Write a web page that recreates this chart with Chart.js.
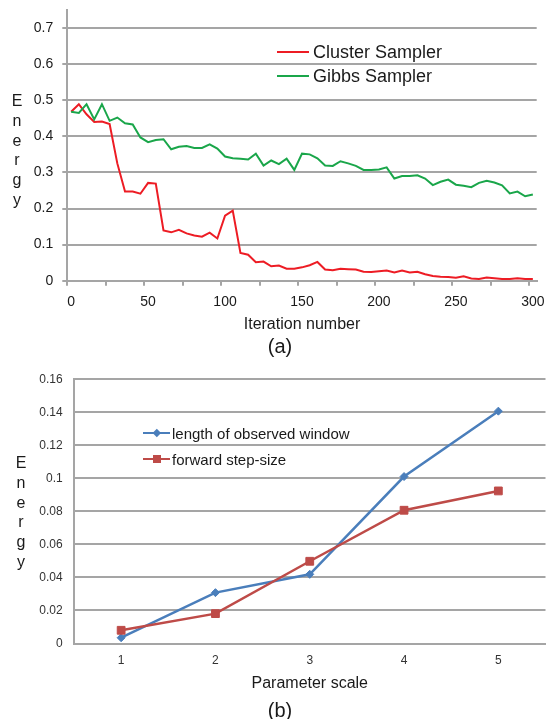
<!DOCTYPE html>
<html>
<head>
<meta charset="utf-8">
<script src="https://cdn.jsdelivr.net/npm/chart.js@4.4.1/dist/chart.umd.min.js"></script>
<style>
  body { margin: 0; background: #fff; }
  #page { position: relative; width: 552px; height: 719px; font-family: "Liberation Sans", Arial, sans-serif; color: #1a1a1a; overflow: hidden; }
  #page canvas { position: absolute; left: 0; }
  #chartA { top: 0; }
  #chartB { top: 360px; }
  .ylabel { position: absolute; width: 30px; text-align: center; line-height: 19.8px; font-size: 16px; }
  .caption { position: absolute; width: 60px; text-align: center; font-size: 20px; line-height: 24px; }
  .legend-row { position: absolute; height: 24px; display: flex; align-items: center; white-space: nowrap; }
  .swatch { position: relative; display: inline-block; }
  .mark { position: absolute; left: 50%; top: 50%; }
</style>
</head>
<body>
<div id="page">
  <canvas id="chartA" width="552" height="360"></canvas>
  <canvas id="chartB" width="552" height="359"></canvas>

  <div class="ylabel" style="left:2px; top:91px;">E<br>n<br>e<br>r<br>g<br>y</div>
  <div class="ylabel" style="left:6px; top:453px;">E<br>n<br>e<br>r<br>g<br>y</div>

  <div class="legend-row" style="left:277px; top:40px;">
    <span class="swatch" style="width:32px; height:2px; background:#ed1c24;"></span>
    <span style="font-size:18px; margin-left:4px;">Cluster Sampler</span>
  </div>
  <div class="legend-row" style="left:277px; top:64px;">
    <span class="swatch" style="width:32px; height:2px; background:#1aa64a;"></span>
    <span style="font-size:18px; margin-left:4px;">Gibbs Sampler</span>
  </div>

  <div class="legend-row" style="left:143px; top:421px;">
    <span class="swatch" style="width:27px; height:2.5px; background:#4a7ebb;">
      <span class="mark" style="width:5.6px; height:5.6px; margin:-2.8px 0 0 -2.8px; background:#4a7ebb; transform:rotate(45deg);"></span>
    </span>
    <span style="font-size:15px; margin-left:2px;">length of observed window</span>
  </div>
  <div class="legend-row" style="left:143px; top:447px;">
    <span class="swatch" style="width:27px; height:2.5px; background:#be4b48;">
      <span class="mark" style="width:8px; height:8px; margin:-4px 0 0 -4px; background:#be4b48;"></span>
    </span>
    <span style="font-size:15px; margin-left:2px;">forward step-size</span>
  </div>

  <div class="caption" style="left:250px; top:334px;">(a)</div>
  <div class="caption" style="left:250px; top:698px;">(b)</div>
</div>

<script>
// ---- (a) energy vs iteration ----
const iterations = ['0', '5', '10', '15', '20', '25', '30', '35', '40', '45',
  '50', '55', '60', '65', '70', '75', '80', '85', '90', '95',
  '100', '105', '110', '115', '120', '125', '130', '135', '140', '145',
  '150', '155', '160', '165', '170', '175', '180', '185', '190', '195',
  '200', '205', '210', '215', '220', '225', '230', '235', '240', '245',
  '250', '255', '260', '265', '270', '275', '280', '285', '290', '295', '300'];

const clusterEnergy = [0.468, 0.489, 0.461, 0.440, 0.441, 0.434, 0.325, 0.247, 0.247, 0.241,
  0.271, 0.269, 0.139, 0.134, 0.141, 0.131, 0.125, 0.122, 0.133, 0.117,
  0.180, 0.194, 0.077, 0.072, 0.051, 0.053, 0.040, 0.042, 0.033, 0.033,
  0.037, 0.043, 0.052, 0.031, 0.029, 0.033, 0.032, 0.031, 0.025, 0.024,
  0.026, 0.028, 0.023, 0.028, 0.023, 0.025, 0.018, 0.013, 0.011, 0.010,
  0.008, 0.012, 0.006, 0.005, 0.009, 0.007, 0.005, 0.005, 0.007, 0.005, 0.005];

const gibbsEnergy = [0.468, 0.465, 0.489, 0.447, 0.489, 0.443, 0.452, 0.436, 0.433, 0.397,
  0.384, 0.390, 0.392, 0.364, 0.371, 0.373, 0.368, 0.368, 0.378, 0.366,
  0.344, 0.339, 0.338, 0.336, 0.352, 0.319, 0.333, 0.323, 0.338, 0.307,
  0.352, 0.350, 0.339, 0.319, 0.318, 0.331, 0.325, 0.318, 0.307, 0.307,
  0.308, 0.314, 0.283, 0.290, 0.290, 0.292, 0.283, 0.265, 0.274, 0.280,
  0.266, 0.263, 0.259, 0.271, 0.277, 0.272, 0.264, 0.242, 0.247, 0.234, 0.239];

// ---- (b) energy vs parameter scale ----
const paramScale = ['1', '2', '3', '4', '5'];
const windowEnergy = [0.0035, 0.0308, 0.0419, 0.1011, 0.1407];
const stepEnergy = [0.0080, 0.0181, 0.0498, 0.0807, 0.0924];

const GRID = '#a5a5a5';
const TEXT = '#1a1a1a';
const FONT = '"Liberation Sans", Arial, sans-serif';

Chart.defaults.font.family = FONT;
Chart.defaults.color = TEXT;

new Chart(document.getElementById('chartA'), {
    type: 'line',
    data: {
        labels: iterations,
        datasets: [{
            label: 'Cluster Sampler',
            data: clusterEnergy,
            borderColor: '#ed1c24',
            borderWidth: 2,
            pointRadius: 0,
            tension: 0,
            order: 1
        }, {
            label: 'Gibbs Sampler',
            data: gibbsEnergy,
            borderColor: '#1aa64a',
            borderWidth: 2,
            pointRadius: 0,
            tension: 0,
            order: 0
        }]
    },
    options: {
        responsive: false,
        animation: false,
        layout: { padding: { top: 10, right: 15.3, bottom: 25.9, left: 0 } },
        plugins: { legend: { display: false }, tooltip: { enabled: false } },
        scales: {
            x: {
                type: 'category',
                offset: true,
                grid: {
                    offset: true,
                    drawOnChartArea: false,
                    tickLength: 5,
                    lineWidth: 2,
                    tickColor: ctx => (ctx.index % 5 === 0 ? GRID : 'rgba(0,0,0,0)')
                },
                border: { display: true, color: GRID, width: 2 },
                ticks: {
                    autoSkip: false,
                    maxRotation: 0,
                    padding: 8,
                    font: { size: 14 },
                    color: TEXT,
                    callback: function (v, i) { return i % 10 === 0 ? this.getLabelForValue(v) : ''; }
                },
                title: { display: true, text: 'Iteration number', font: { size: 16 }, color: TEXT, padding: 0 },
                afterFit: s => { s.height = 53.4; s.paddingLeft = 0; s.paddingRight = 0; }
            },
            y: {
                min: 0,
                max: 0.75,
                afterBuildTicks: s => {
                    s.ticks = s.ticks.filter(t => Math.abs(t.value * 10 - Math.round(t.value * 10)) < 1e-6);
                },
                grid: { color: GRID, lineWidth: 2, tickLength: 5 },
                border: { color: GRID, width: 2 },
                ticks: {
                    stepSize: 0.1,
                    padding: 9,
                    font: { size: 14 },
                    color: TEXT,
                    callback: v => String(+v.toFixed(1))
                },
                afterFit: s => { s.width = 67.3; s.paddingTop = 0; s.paddingBottom = 0; }
            }
        }
    }
});

new Chart(document.getElementById('chartB'), {
    type: 'line',
    data: {
        labels: paramScale,
        datasets: [{
            label: 'length of observed window',
            data: windowEnergy,
            borderColor: '#4a7ebb',
            backgroundColor: '#4a7ebb',
            borderWidth: 2.5,
            pointStyle: 'rectRot',
            pointRadius: 4,
            pointBorderWidth: 1,
            tension: 0,
            order: 1
        }, {
            label: 'forward step-size',
            data: stepEnergy,
            borderColor: '#be4b48',
            backgroundColor: '#be4b48',
            borderWidth: 2.5,
            pointStyle: 'rect',
            pointRadius: 5.5,
            pointBorderWidth: 1,
            tension: 0,
            order: 0
        }]
    },
    options: {
        responsive: false,
        animation: false,
        layout: { padding: { top: 19.3, right: 6.3, bottom: 25.4, left: 0 } },
        plugins: { legend: { display: false }, tooltip: { enabled: false } },
        scales: {
            x: {
                type: 'category',
                offset: true,
                grid: { display: false, drawTicks: false },
                border: { display: true, color: GRID, width: 2 },
                ticks: { padding: 10, font: { size: 12 }, color: '#333' },
                title: { display: true, text: 'Parameter scale', font: { size: 16 }, color: TEXT, padding: 0 },
                afterFit: s => { s.height = 50.1; s.paddingLeft = 0; s.paddingRight = 0; }
            },
            y: {
                min: 0,
                max: 0.16,
                grid: { color: GRID, lineWidth: 2, drawTicks: false },
                border: { color: GRID, width: 2 },
                ticks: {
                    stepSize: 0.02,
                    padding: 11.3,
                    font: { size: 12 },
                    color: '#333',
                    callback: v => String(+v.toFixed(2))
                },
                afterFit: s => { s.width = 74; s.paddingTop = 0; s.paddingBottom = 0; }
            }
        }
    }
});
</script>
</body>
</html>
